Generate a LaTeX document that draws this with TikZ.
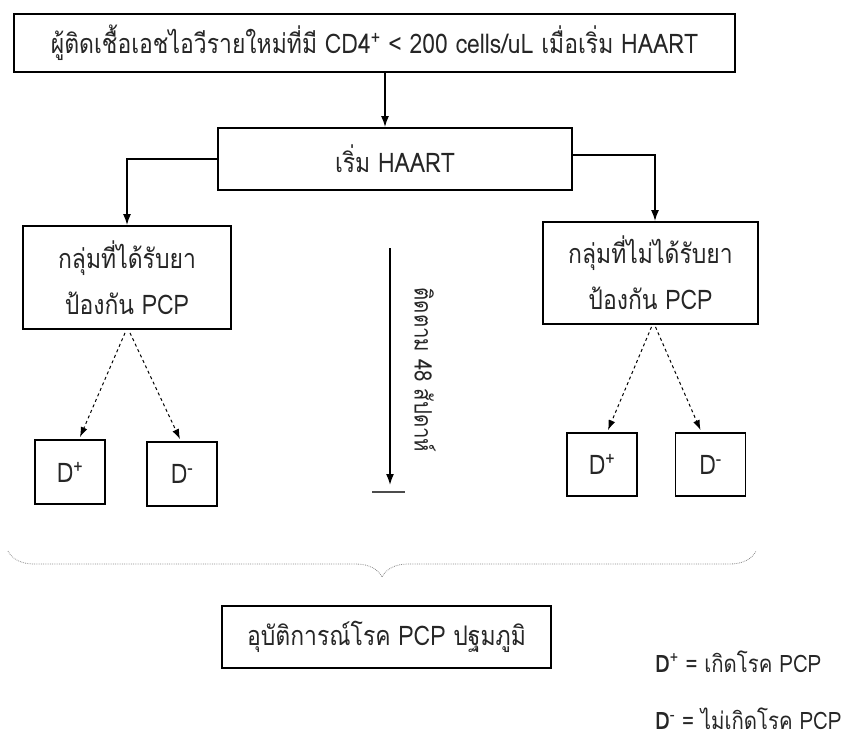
\documentclass[tikz,border=0pt]{standalone}
\usepackage{fontspec}
\setmainfont[Script=Thai,FakeStretch=0.85]{Loma}
\usetikzlibrary{arrows.meta,decorations.pathreplacing,calc}
\begin{document}
\begin{tikzpicture}[x=1pt,y=1pt,
  box/.style={draw=black,line width=1.8pt,inner sep=0pt,align=center,font=\fontsize{27}{46}\selectfont,text=black!85},
  dbox/.style={box,minimum width=70pt,minimum height=64pt},
  arr/.style={line width=1.6pt,-{Latex[length=11pt,width=8pt]}},
  darr/.style={line width=1pt,dashed,-{Latex[length=10pt,width=7pt]}},
  lbl/.style={font=\fontsize{24}{26}\selectfont,text=black!85,inner sep=0pt}]
\useasboundingbox (0,0) rectangle (843,-740);
\node[box,minimum width=721pt,minimum height=58pt] (top) at (374.5,-43) {ผู้ติดเชื้อเอชไอวีรายใหม่ที่มี CD4\textsuperscript{+} < 200 cells/uL เมื่อเริ่ม HAART};
\node[box,minimum width=354pt,minimum height=62pt] (haart) at (395,-159) {เริ่ม HAART};
\node[box,minimum width=208pt,minimum height=103pt] (lg) at (127,-277.5) {กลุ่มที่ได้รับยา\\ป้องกัน PCP};
\node[box,minimum width=215pt,minimum height=102pt] (rg) at (650.5,-273) {กลุ่มที่ไม่ได้รับยา\\ป้องกัน PCP};
\node[dbox] (ldp) at (70,-472) {D\textsuperscript{+}};
\node[dbox] (ldm) at (182,-474) {D\textsuperscript{-}};
\node[dbox,minimum height=63pt] (rdp) at (602,-464.5) {D\textsuperscript{+}};
\node[dbox,minimum height=63pt] (rdm) at (710.5,-464.5) {D\textsuperscript{-}};
\node[box,minimum width=329pt,minimum height=62pt] (inc) at (386.5,-637) {อุบัติการณ์โรค PCP ปฐมภูมิ};
% connectors
\coordinate (a1) at ($(top.south)+(10.5,0)$);
\draw[arr] (a1) -- (a1 |- haart.north);
\draw[arr] (haart.west) -| (lg.north);
\draw[arr] ($(haart.east)+(0,4)$) -| ($(rg.north)+(4.5,0)$);
\draw[darr] ($(lg.south)+(-2,-3)$) -- ($(ldp.north)+(10,2)$);
\draw[darr] ($(lg.south)+(3,-3)$) -- ($(ldm.north)+(-2,2)$);
\draw[darr] ($(rg.south)+(1,-2)$) -- ($(rdp.north)+(6,2)$);
\draw[darr] ($(rg.south)+(5,-2)$) -- ($(rdm.north)+(-10,2)$);
% timeline
\coordinate (t1) at (390,-248);
\coordinate (t2) at (390,-485);
\coordinate (b1) at (372,-492);
\coordinate (b2) at (405,-492);
\draw[arr] (t1) -- (t2);
\draw[line width=1.2pt,black!70] (b1) -- (b2);
\node[lbl,rotate=-90] (follow) at (425,-370) {ติดตาม 48 สัปดาห์};
% brace
\coordinate (br1) at (8,-551);
\coordinate (br2) at (756,-551);
\draw[black!45,densely dotted,line width=0.8pt,decorate,decoration={brace,mirror,amplitude=26pt}] (br1) -- (br2);
% legend
\node[lbl,anchor=west] (leg1) at (655,-662) {\textbf{D}\textsuperscript{+} = เกิดโรค PCP};
\node[lbl,anchor=west] (leg2) at (655,-719) {\textbf{D}\textsuperscript{-} = ไม่เกิดโรค PCP};
\end{tikzpicture}
\end{document}
